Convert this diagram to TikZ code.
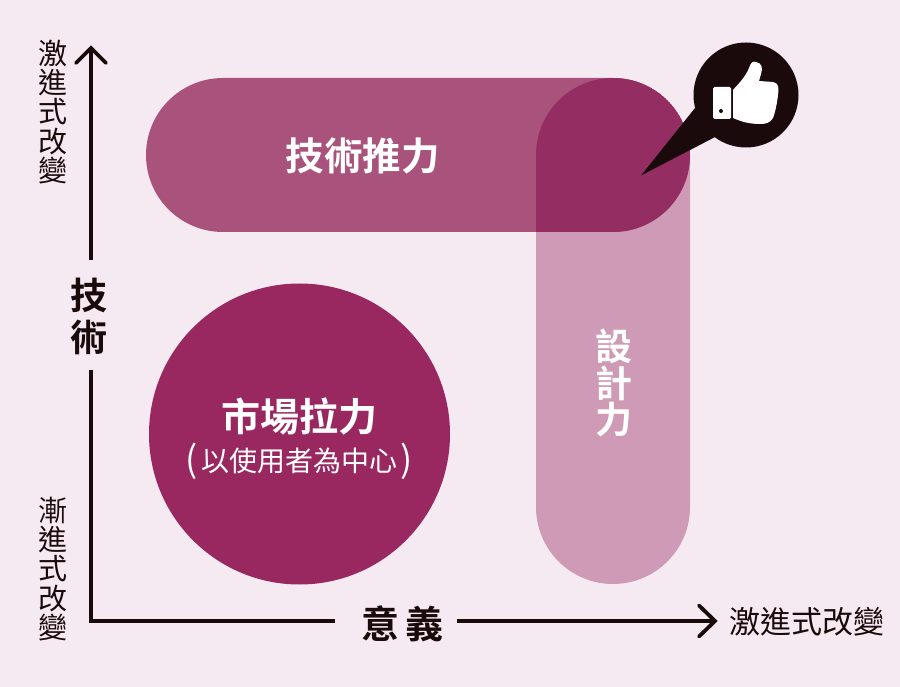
\documentclass[tikz,border=0pt]{standalone}
\usepackage{fontspec}
\usetikzlibrary{arrows.meta}
\newfontfamily\cjk{Noto Sans CJK TC}
\newfontfamily\cjkb{Noto Sans CJK TC Bold}
\definecolor{bgc}{HTML}{F6EAF2}
\definecolor{discfill}{HTML}{98285F}
\definecolor{pilla}{HTML}{A9527B}
\definecolor{pillb}{HTML}{CF9AB5}
\definecolor{over}{HTML}{942E62}
\definecolor{ink}{HTML}{1A0A0C}
\tikzset{
  axisline/.style={draw=ink,line width=3.5pt,line cap=butt,line join=miter},
  chevron/.style={draw=ink,line width=3.8pt,line cap=round,line join=miter},
  sidelabel/.style={text=ink,inner sep=0pt,align=center,font=\cjk\fontsize{29}{29.2}\selectfont},
  axislabel/.style={text=ink,inner sep=0pt,align=center,font=\cjkb\fontsize{37}{42}\selectfont},
  whitelabel/.style={text=white,inner sep=0pt,align=center,font=\cjkb\fontsize{38.5}{43}\selectfont},
}
\newcommand{\bigparen}[1]{{\fontsize{36}{30}\selectfont\raisebox{-1pt}{#1}}}
\begin{document}
\begin{tikzpicture}[x=1pt,y=-1pt]
\fill[bgc] (0,0) rectangle (900,687);
\useasboundingbox (0,0) rectangle (900,687);
% vertical pill, horizontal pill, overlap
\fill[pillb,rounded corners=77pt] (536,78) rectangle (690,584);
\fill[pilla,rounded corners=77pt] (146,78) rectangle (690,232);
\begin{scope}
\clip[rounded corners=77pt] (146,78) rectangle (690,232);
\fill[over,rounded corners=77pt] (536,78) rectangle (690,584);
\end{scope}
\fill[discfill] (299.5,434) circle[radius=150.5];
% speech bubble
\fill[ink] (746,95) circle[radius=52.5];
\fill[ink] (695,108) -- (641,175.5) -- (717,136) -- cycle;
\fill[white,rounded corners=1.5pt] (713,87) rectangle (731,119);
\fill[ink] (721,111) circle[radius=2];
\fill[white] (733,90) .. controls (738,84) and (745,78) .. (749,68) .. controls (751,62) and (753,61) .. (756,62)
  .. controls (762,63) and (763,68) .. (761,74) -- (759,81) -- (773,82) .. controls (779,83) and (779,88) .. (778,95)
  .. controls (777,104) and (775,113) .. (773,118) .. controls (770,123) and (766,124) .. (760,124)
  .. controls (750,124) and (742,122) .. (733,118) -- cycle;
% labels
\node[whitelabel] (push) at (362.5,155.5) {技術推力};
\node[whitelabel,font=\cjkb\fontsize{37}{36.5}\selectfont] (design) at (613.5,383) {設\\計\\力};
\node[whitelabel,font=\cjkb\fontsize{39}{43}\selectfont] (pull) at (299,417) {市場拉力};
\node[text=white,inner sep=0pt,font=\cjk\fontsize{28}{30}\selectfont] (center) at (299,461) {\bigparen{(}\hspace{3pt}以使用者為中心\hspace{3pt}\bigparen{)}};
\node[axislabel] (tech) at (89,316) {技\\術};
\node[axislabel,font=\cjkb\fontsize{38}{42}\selectfont] (mean) at (402.5,624) {意\hspace{6pt}義};
\node[sidelabel] (t1) at (53,112) {激\\進\\式\\改\\變};
\node[sidelabel] (t2) at (53,569) {漸\\進\\式\\改\\變};
\node[text=ink,inner sep=0pt,font=\cjk\fontsize{31}{36}\selectfont] (t3) at (807,622) {激進式改變};
% axes
\coordinate (origin) at (91,621);
\coordinate (top) at (91,48);
\coordinate (topl) at (76,63);
\coordinate (topr) at (106,63);
\coordinate (right) at (715,621);
\coordinate (rightu) at (699,605.5);
\coordinate (rightd) at (699,636.5);
\coordinate (v1) at (91,260);
\coordinate (v2) at (91,370);
\coordinate (h1) at (335,621);
\coordinate (h2) at (457,621);
\draw[axisline] (v1) -- (top);
\draw[chevron] (topl) -- (top) -- (topr);
\draw[axisline] (v2) -- (origin) -- (h1);
\draw[axisline] (h2) -- (right);
\draw[chevron] (rightu) -- (right) -- (rightd);
\end{tikzpicture}
\end{document}
